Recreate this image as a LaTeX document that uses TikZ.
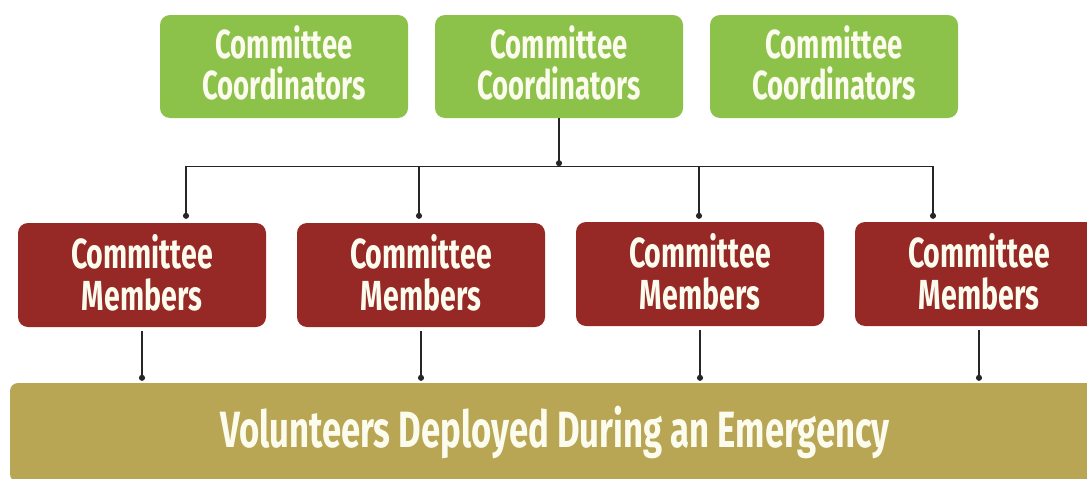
\documentclass[tikz,border=0pt]{standalone}
\usepackage{fontspec}
\usetikzlibrary{arrows.meta,calc}
\newfontfamily\condfont[FakeStretch=0.68]{Fira Sans}
\definecolor{cgreen}{HTML}{8CC14A}
\definecolor{cred}{HTML}{962826}
\definecolor{cgold}{HTML}{B8A654}
\definecolor{ctext}{HTML}{FCFCEE}
\tikzset{
  coordbox/.style={rectangle, rounded corners=10pt, fill=cgreen, text=ctext,
    minimum width=248pt, minimum height=103pt, align=center, inner sep=0pt,
    text depth=8pt,
    font=\condfont\bfseries\fontsize{40.5}{41}\selectfont},
  memberbox/.style={rectangle, rounded corners=10pt, fill=cred, text=ctext,
    minimum width=248pt, minimum height=104pt, align=center, inner sep=0pt,
    text depth=6pt,
    font=\condfont\bfseries\fontsize{42}{42}\selectfont},
  barbox/.style={rectangle, rounded corners=8pt, fill=cgold, text=ctext,
    minimum width=1090pt, minimum height=99pt, inner sep=0pt,
    font=\condfont\bfseries\fontsize{51}{51}\selectfont},
  conn/.style={draw=black!85, line width=1.4pt},
  dotend/.style={-{Circle[length=6pt]}},
}
\begin{document}
\begin{tikzpicture}[x=1pt,y=-1pt]
\useasboundingbox[fill=white] (0,0) rectangle (1087,479);
% coordinators
\node[coordbox] (g1) at (284,66.5) {Committee\\Coordinators};
\node[coordbox] (g2) at (559,66.5) {Committee\\Coordinators};
\node[coordbox] (g3) at (834,66.5) {Committee\\Coordinators};
% members
\node[memberbox] (m1) at (142,275) {Committee\\Members};
\node[memberbox] (m2) at (421,275) {Committee\\Members};
\node[memberbox] (m3) at (700,274) {Committee\\Members};
\node[memberbox] (m4) at (979,274) {Committee\\Members};
% bar
\node[barbox] (bar) at (555,432.5) {Volunteers Deployed During an Emergency};
% connectors
\coordinate (j) at ($(g2.south)+(0,48)$);
\coordinate (t1) at ($(m1.north)+(44,-4)$);
\coordinate (t2) at ($(m2.north)+(-2,-4)$);
\coordinate (t3) at ($(m3.north)+(-1,-3)$);
\coordinate (t4) at ($(m4.north)+(-46,-3)$);
\draw[conn,dotend] (g2.south) -- (j);
\draw[conn] (j -| t1) -- (j -| t4);
\draw[conn,dotend] (j -| t1) -- (t1);
\draw[conn,dotend] (j -| t2) -- (t2);
\draw[conn,dotend] (j -| t3) -- (t3);
\draw[conn,dotend] (j -| t4) -- (t4);
\foreach \i in {1,2,3,4}{
  \draw[conn,dotend] ($(m\i.south)+(0,4)$) -- ($(m\i.south |- bar.north)+(0,-2)$);
}
\end{tikzpicture}
\end{document}
